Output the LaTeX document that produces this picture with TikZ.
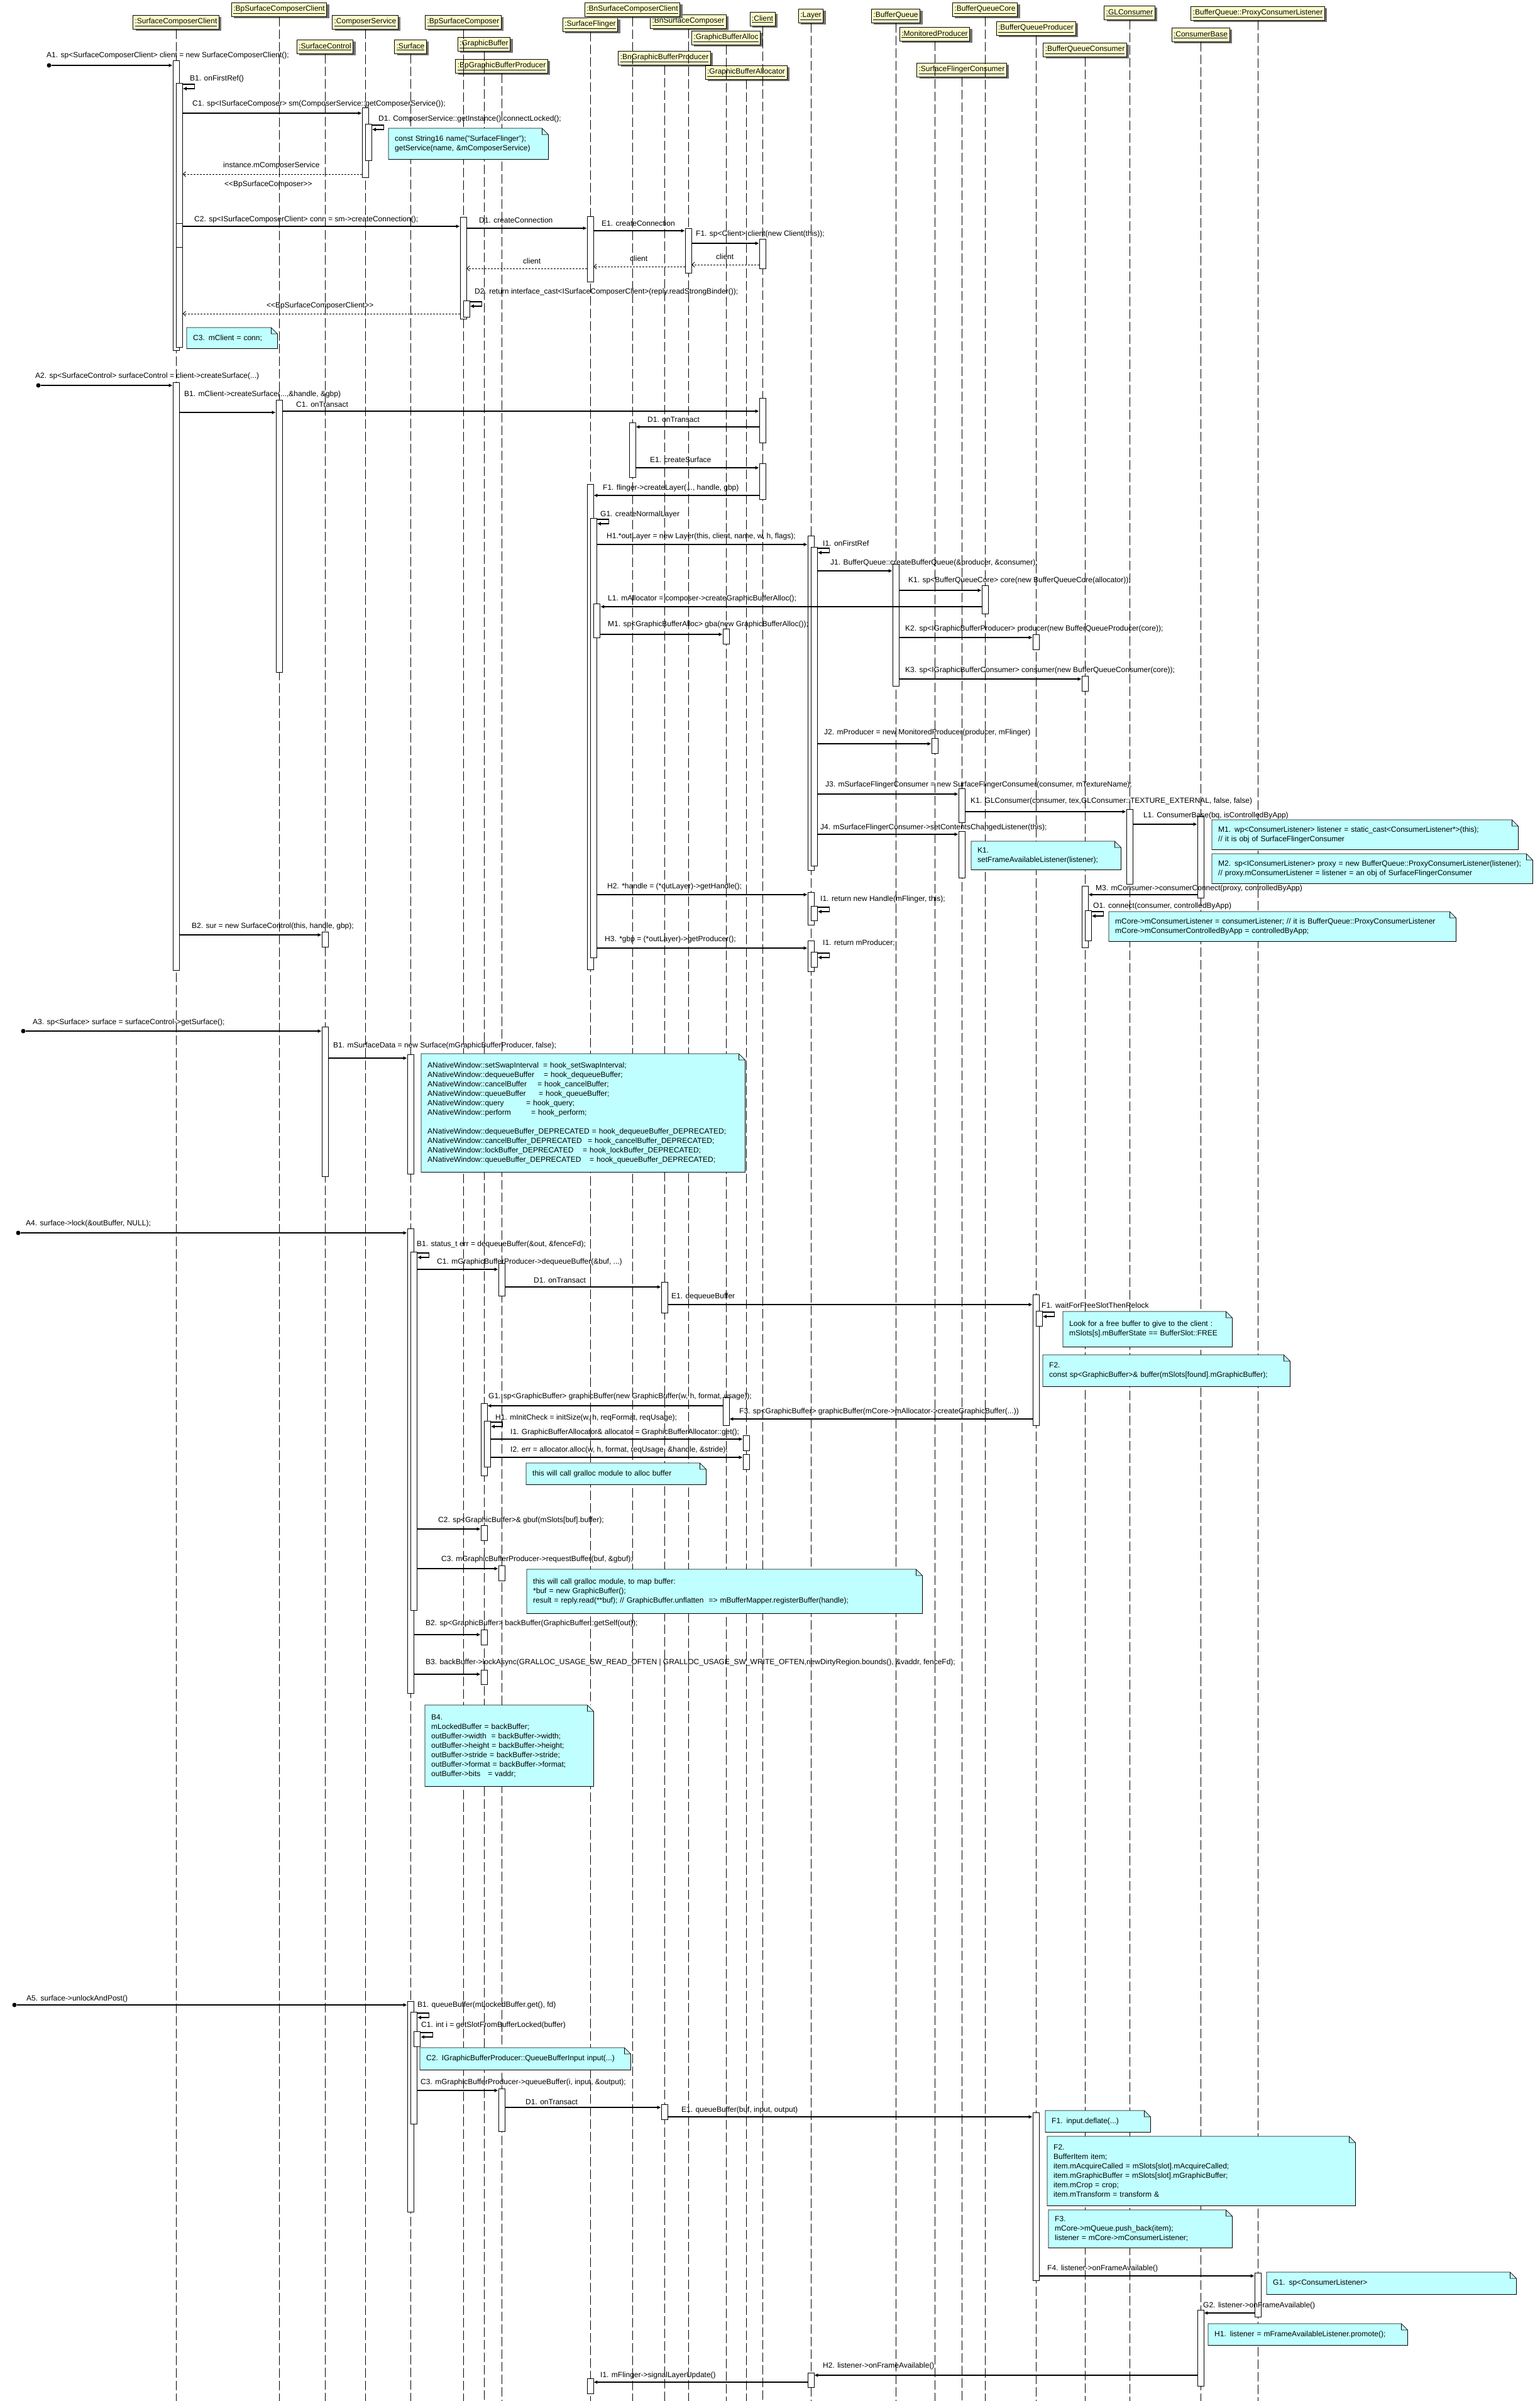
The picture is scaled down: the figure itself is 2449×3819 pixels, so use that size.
\documentclass[tikz,border=0pt]{standalone}
\usepackage{fontspec}
\setmainfont{Liberation Sans}
\usetikzlibrary{arrows.meta,shadows}
\definecolor{objyellow}{RGB}{255,255,204}
\definecolor{notecyan}{RGB}{192,255,255}
\newcommand{\dfont}{\fontsize{12}{15}\selectfont}
\tikzset{
  objbox/.style   = {draw, line width=0.8pt, fill=objyellow, anchor=north,
                     minimum height=22pt, inner xsep=3pt, inner ysep=0pt, font=\dfont,
                     drop shadow={shadow xshift=4pt, shadow yshift=-3pt, fill=black!55, opacity=1}},
  lifeline/.style = {line width=1pt, dash pattern=on 15pt off 5pt},
  actbar/.style   = {draw, fill=white, line width=0.8pt, anchor=north,
                     minimum width=10pt, inner sep=0pt},
  msg/.style      = {line width=1.1pt, -{Latex[length=6pt,width=6pt]}},
  ret/.style      = {line width=0.9pt, dash pattern=on 3pt off 2pt,
                     -{Straight Barb[length=4pt,width=8pt]}},
  msglabel/.style = {anchor=west, inner sep=0pt, font=\dfont},
  note/.style     = {fill=notecyan, anchor=north west, inner xsep=10pt, inner ysep=0pt,
                     align=left, font=\dfont},
  noteline/.style = {line width=0.8pt},
  startdot/.style = {circle, fill=black, inner sep=0pt, minimum size=7pt},
}
% folded corner and outline of a note node
\newcommand{\notefold}[1]{%
  \fill[white] ([xshift=-10pt]#1.north east) -- (#1.north east) -- ([yshift=-10pt]#1.north east) -- cycle;
  \draw[noteline] (#1.north west) -- ([xshift=-10pt]#1.north east) -- ([yshift=-10pt]#1.north east)
     -- (#1.south east) -- (#1.south west) -- cycle
     ([xshift=-10pt]#1.north east) |- ([yshift=-10pt]#1.north east);}

\begin{document}
\begin{tikzpicture}[x=1pt,y=-1pt]
  \path[use as bounding box, fill=white] (0,0) rectangle (2449,3819);

  % ---- objects -----------------------------------------------------------
  \foreach \nm/\txt/\x/\y in {
      scc/SurfaceComposerClient/280/24, bpscc/BpSurfaceComposerClient/444/4,
      sctl/SurfaceControl/517/63, csvc/ComposerService/581/24, surf/Surface/653/63,
      bpsc/BpSurfaceComposer/737/24, gbuf/GraphicBuffer/770/59,
      bpgbp/BpGraphicBufferProducer/798/94, sf/SurfaceFlinger/939/28,
      bnsc/BnSurfaceComposer/1095/23, bnscc/BnSurfaceComposerClient/1006/4,
      bngbp/BnGraphicBufferProducer/1057/81, gba/GraphicBufferAlloc/1155/49,
      gbator/GraphicBufferAllocator/1187/104, client/Client/1213/19,
      layer/Layer/1290/14, bq/BufferQueue/1425/14, mprod/MonitoredProducer/1487/43,
      sfc/SurfaceFlingerConsumer/1530/100, bqcore/BufferQueueCore/1567/4,
      bqp/BufferQueueProducer/1648/34, bqc/BufferQueueConsumer/1726/68,
      glc/GLConsumer/1797/9, cbase/ConsumerBase/1910/44,
      pcl/BufferQueue::ProxyConsumerListener/2001/10}
    \node[objbox] (h\nm) at (\x,\y) {\underline{:\txt}};

  % ---- lifelines ---------------------------------------------------------
  \foreach \nm in {scc,bpscc,sctl,csvc,surf,bpsc,gbuf,bpgbp,sf,bnsc,bnscc,bngbp,gba,
                   gbator,client,layer,bq,mprod,sfc,bqcore,bqp,bqc,glc,cbase,pcl}
    \draw[lifeline] (h\nm.south) -- (h\nm.south |- 0,3819);

  % ---- A1: create the composer client --------------------------------------
  \node[startdot] (s1) at (78,104) {};
  \node[actbar, minimum height=461pt] (a1scc) at (hscc.south |- 0,96) {};
  \node[actbar, minimum height=223pt] (a1sccB) at (a1scc.north east |- 0,132) {};
  \node[actbar, minimum height=38pt]  (a1sccC) at (a1scc.north east |- 0,355) {};
  \node[actbar, minimum height=159pt] (a1sccD) at (a1scc.north east |- 0,393) {};
  \node[actbar, minimum height=111pt] (a1csv) at (hcsvc.south |- 0,171) {};
  \node[actbar, minimum height=58pt]  (a1csvD) at (a1csv.north east |- 0,197) {};
  \node[actbar, minimum height=162pt] (a1bpsc) at (hbpsc.south |- 0,345) {};
  \node[actbar, minimum height=26pt]  (a1bpscD) at (a1bpsc.north east |- 0,478) {};
  \node[actbar, minimum height=104pt] (a1sf) at (hsf.south |- 0,344) {};
  \node[actbar, minimum height=71pt]  (a1bnsc) at (hbnsc.south |- 0,363) {};
  \node[actbar, minimum height=47pt]  (a1cli) at (hclient.south |- 0,380) {};

  \draw[msg] (s1) -- (a1scc.west |- s1);
  \node[msglabel] (l1A1) at (74,88) {A1. sp<SurfaceComposerClient> client = new SurfaceComposerClient();};
  \draw[msg] ([yshift=-2pt]a1sccB.north east) -- ++(19,0) -- ++(0,7) -- ++(-19,0);
  \node[msglabel] (l1B1) at (302,125) {B1. onFirstRef()};
  \draw[msg] (a1sccB.east |- 0,180) -- (a1csv.west |- 0,180);
  \node[msglabel] (l1C1) at (306,165) {C1. sp<ISurfaceComposer> sm(ComposerService::getComposerService());};
  \draw[msg] ([yshift=-2pt]a1csvD.north east) -- ++(19,0) -- ++(0,7) -- ++(-19,0);
  \node[msglabel] (l1D1) at (602,189) {D1. ComposerService::getInstance().connectLocked();};
  \draw[ret] (a1csv.west |- 0,277) -- (a1sccB.east |- 0,277);
  \node[msglabel] (l1r1) at (355,263) {instance.mComposerService};
  \node[msglabel] (l1r1b) at (357,293) {<{}<BpSurfaceComposer>{}>};
  \draw[msg] (a1sccC.east |- 0,360) -- (a1bpsc.west |- 0,360);
  \node[msglabel] (l1C2) at (309,349) {C2. sp<ISurfaceComposerClient> conn = sm->createConnection();};
  \draw[msg] (a1bpsc.east |- 0,363) -- (a1sf.west |- 0,363);
  \node[msglabel] (l1D1b) at (762,350) {D1. createConnection};
  \draw[msg] (a1sf.east |- 0,367) -- (a1bnsc.west |- 0,367);
  \node[msglabel] (l1E1) at (957,355) {E1. createConnection};
  \draw[msg] (a1bnsc.east |- 0,387) -- (a1cli.west |- 0,387);
  \node[msglabel] (l1F1) at (1107,372) {F1. sp<Client> client(new Client(this));};
  \draw[ret] (a1cli.west |- 0,421) -- (a1bnsc.east |- 0,421);
  \node[msglabel] (l1r2) at (1139,408) {client};
  \draw[ret] (a1bnsc.west |- 0,424) -- (a1sf.east |- 0,424);
  \node[msglabel] (l1r3) at (1002,411) {client};
  \draw[ret] (a1sf.west |- 0,427) -- (a1bpsc.east |- 0,427);
  \node[msglabel] (l1r4) at (832,415) {client};
  \draw[msg] ([yshift=-2pt]a1bpscD.north east) -- ++(19,0) -- ++(0,7) -- ++(-19,0);
  \node[msglabel] (l1D2) at (755,464) {D2. return interface\_cast<ISurfaceComposerClient>(reply.readStrongBinder());};
  \draw[ret] (a1bpsc.west |- 0,499) -- (a1sccD.east |- 0,499);
  \node[msglabel] (l1r5) at (424,486) {<{}<BpSurfaceComposerClient>{}>};

  \node[note, text width=234pt, minimum height=49pt] (n1D1) at (618,204)
    {const String16 name("SurfaceFlinger");\\getService(name, \&mComposerService)};
  \notefold{n1D1}
  \node[note, text width=124pt, minimum height=33pt] (n1C3) at (297,521) {C3. mClient = conn;};
  \notefold{n1C3}

  % ---- A2: create the surface ----------------------------------------------
  \node[startdot] (s2) at (61,613) {};
  \node[actbar, minimum height=935pt] (a2scc) at (hscc.south |- 0,608) {};
  \node[actbar, minimum height=433pt] (a2bpscc) at (hbpscc.south |- 0,636) {};
  \node[actbar, minimum height=71pt]  (a2cli1) at (hclient.south |- 0,633) {};
  \node[actbar, minimum height=87pt]  (a2bnscc) at (hbnscc.south |- 0,672) {};
  \node[actbar, minimum height=57pt]  (a2cli2) at (hclient.south |- 0,737) {};
  \node[actbar, minimum height=772pt] (a2sf) at (hsf.south |- 0,770) {};
  \node[actbar, minimum height=699pt] (a2sfG) at (a2sf.north east |- 0,824) {};
  \node[actbar, minimum height=54pt]  (a2sfL) at (a2sfG.north east |- 0,960) {};
  \node[actbar, minimum height=532pt] (a2layer) at (hlayer.south |- 0,852) {};
  \node[actbar, minimum height=507pt] (a2layerI) at (a2layer.north east |- 0,870) {};
  \node[actbar, minimum height=194pt] (a2bq) at (hbq.south |- 0,897) {};
  \node[actbar, minimum height=45pt]  (a2core) at (hbqcore.south |- 0,931) {};
  \node[actbar, minimum height=24pt]  (a2gba) at (hgba.south |- 0,1000) {};
  \node[actbar, minimum height=24pt]  (a2bqp) at (hbqp.south |- 0,1009) {};
  \node[actbar, minimum height=24pt]  (a2bqc) at (hbqc.south |- 0,1075) {};
  \node[actbar, minimum height=24pt]  (a2mprod) at (hmprod.south |- 0,1174) {};
  \node[actbar, minimum height=54pt]  (a2sfc1) at (hsfc.south |- 0,1254) {};
  \node[actbar, minimum height=119pt] (a2glc) at (hglc.south |- 0,1287) {};
  \node[actbar, minimum height=130pt] (a2cbase) at (hcbase.south |- 0,1298) {};
  \node[actbar, minimum height=74pt]  (a2sfc2) at (hsfc.south |- 0,1322) {};
  \node[actbar, minimum height=98pt]  (a2bqc2) at (hbqc.south |- 0,1409) {};
  \node[actbar, minimum height=48pt]  (a2bqcO) at (a2bqc2.north east |- 0,1448) {};
  \node[actbar, minimum height=52pt]  (a2layer2) at (hlayer.south |- 0,1419) {};
  \node[actbar, minimum height=23pt]  (a2layer2I) at (a2layer2.north east |- 0,1441) {};
  \node[actbar, minimum height=49pt]  (a2layer3) at (hlayer.south |- 0,1496) {};
  \node[actbar, minimum height=24pt]  (a2layer3I) at (a2layer3.north east |- 0,1514) {};
  \node[actbar, minimum height=24pt]  (a2sctl) at (hsctl.south |- 0,1482) {};

  \draw[msg] (s2) -- (a2scc.west |- s2);
  \node[msglabel] (l2A2) at (56,598) {A2. sp<SurfaceControl> surfaceControl = client->createSurface(...)};
  \draw[msg] (a2scc.east |- 0,656) -- (a2bpscc.west |- 0,656);
  \node[msglabel] (l2B1) at (293,627) {B1. mClient->createSurface(...,\&handle, \&gbp)};
  \draw[msg] (a2bpscc.east |- 0,654) -- (a2cli1.west |- 0,654);
  \node[msglabel] (l2C1) at (471,643) {C1. onTransact};
  \draw[msg] (a2cli1.west |- 0,679) -- (a2bnscc.east |- 0,679);
  \node[msglabel] (l2D1) at (1030,667) {D1. onTransact};
  \draw[msg] (a2bnscc.east |- 0,744) -- (a2cli2.west |- 0,744);
  \node[msglabel] (l2E1) at (1034,731) {E1. createSurface};
  \draw[msg] (a2cli2.west |- 0,788) -- (a2sf.east |- 0,788);
  \node[msglabel] (l2F1) at (959,776) {F1. flinger->createLayer(..., handle, gbp)};
  \draw[msg] ([yshift=-2pt]a2sfG.north east) -- ++(19,0) -- ++(0,7) -- ++(-19,0);
  \node[msglabel] (l2G1) at (955,818) {G1. createNormalLayer};
  \draw[msg] (a2sfG.east |- 0,866) -- (a2layer.west |- 0,866);
  \node[msglabel] (l2H1) at (965,853) {H1.*outLayer = new Layer(this, client, name, w, h, flags);};
  \draw[msg] ([yshift=-2pt]a2layerI.north east) -- ++(19,0) -- ++(0,7) -- ++(-19,0);
  \node[msglabel] (l2I1) at (1309,864) {I1. onFirstRef};
  \draw[msg] (a2layerI.east |- 0,908) -- (a2bq.west |- 0,908);
  \node[msglabel] (l2J1) at (1321,895) {J1. BufferQueue::createBufferQueue(\&producer, \&consumer);};
  \draw[msg] (a2bq.east |- 0,939) -- (a2core.west |- 0,939);
  \node[msglabel] (l2K1) at (1445,923) {K1. sp<BufferQueueCore> core(new BufferQueueCore(allocator));};
  \draw[msg] (a2core.west |- 0,965) -- (a2sfL.east |- 0,965);
  \node[msglabel] (l2L1) at (967,952) {L1. mAllocator = composer->createGraphicBufferAlloc();};
  \draw[msg] (a2sfL.east |- 0,1009) -- (a2gba.west |- 0,1009);
  \node[msglabel] (l2M1) at (967,993) {M1. sp<GraphicBufferAlloc> gba(new GraphicBufferAlloc());};
  \draw[msg] (a2bq.east |- 0,1014) -- (a2bqp.west |- 0,1014);
  \node[msglabel] (l2K2) at (1440,1000) {K2. sp<IGraphicBufferProducer> producer(new BufferQueueProducer(core));};
  \draw[msg] (a2bq.east |- 0,1080) -- (a2bqc.west |- 0,1080);
  \node[msglabel] (l2K3) at (1440,1066) {K3. sp<IGraphicBufferConsumer> consumer(new BufferQueueConsumer(core));};
  \draw[msg] (a2layerI.east |- 0,1183) -- (a2mprod.west |- 0,1183);
  \node[msglabel] (l2J2) at (1311,1165) {J2. mProducer = new MonitoredProducer(producer, mFlinger)};
  \draw[msg] (a2layerI.east |- 0,1263) -- (a2sfc1.west |- 0,1263);
  \node[msglabel] (l2J3) at (1313,1248) {J3. mSurfaceFlingerConsumer = new SurfaceFlingerConsumer(consumer, mTextureName);};
  \draw[msg] (a2sfc1.east |- 0,1291) -- (a2glc.west |- 0,1291);
  \node[msglabel] (l2K1b) at (1544,1274) {K1. GLConsumer(consumer, tex,GLConsumer::TEXTURE\_EXTERNAL, false, false)};
  \draw[msg] (a2glc.east |- 0,1311) -- (a2cbase.west |- 0,1311);
  \node[msglabel] (l2L1b) at (1819,1297) {L1. ConsumerBase(bq, isControlledByApp)};
  \draw[msg] (a2layerI.east |- 0,1327) -- (a2sfc2.west |- 0,1327);
  \node[msglabel] (l2J4) at (1305,1316) {J4. mSurfaceFlingerConsumer->setContentsChangedListener(this);};
  \draw[msg] (a2cbase.west |- 0,1423) -- (a2bqc2.east |- 0,1423);
  \node[msglabel] (l2M3) at (1743,1413) {M3. mConsumer->consumerConnect(proxy, controlledByApp)};
  \draw[msg] ([yshift=-2pt]a2bqcO.north east) -- ++(19,0) -- ++(0,7) -- ++(-19,0);
  \node[msglabel] (l2O1) at (1739,1441) {O1. connect(consumer, controlledByApp)};
  \draw[msg] (a2sfG.east |- 0,1423) -- (a2layer2.west |- 0,1423);
  \node[msglabel] (l2H2) at (966,1410) {H2. *handle = (*outLayer)->getHandle();};
  \draw[msg] ([yshift=-2pt]a2layer2I.north east) -- ++(19,0) -- ++(0,7) -- ++(-19,0);
  \node[msglabel] (l2I1b) at (1305,1430) {I1. return new Handle(mFlinger, this);};
  \draw[msg] (a2sfG.east |- 0,1508) -- (a2layer3.west |- 0,1508);
  \node[msglabel] (l2H3) at (962,1494) {H3. *gbp = (*outLayer)->getProducer();};
  \draw[msg] ([yshift=-2pt]a2layer3I.north east) -- ++(19,0) -- ++(0,7) -- ++(-19,0);
  \node[msglabel] (l2I1c) at (1309,1500) {I1. return mProducer;};
  \draw[msg] (a2scc.east |- 0,1487) -- (a2sctl.west |- 0,1487);
  \node[msglabel] (l2B2) at (305,1473) {B2. sur = new SurfaceControl(this, handle, gbp);};

  \node[note, text width=218pt, minimum height=45pt] (n2K1) at (1545,1338)
    {K1.\\setFrameAvailableListener(listener);};
  \notefold{n2K1}
  \node[note, text width=467pt, minimum height=47pt] (n2M1) at (1928,1304)
    {M1. wp<ConsumerListener> listener = static\_cast<ConsumerListener*>(this);\\// it is obj of SurfaceFlingerConsumer};
  \notefold{n2M1}
  \node[note, text width=490pt, minimum height=47pt] (n2M2) at (1928,1358)
    {M2. sp<IConsumerListener> proxy = new BufferQueue::ProxyConsumerListener(listener);\\// proxy.mConsumerListener = listener = an obj of SurfaceFlingerConsumer};
  \notefold{n2M2}
  \node[note, text width=532pt, minimum height=47pt] (n2O1) at (1764,1450)
    {mCore->mConsumerListener = consumerListener; // it is BufferQueue::ProxyConsumerListener\\mCore->mConsumerControlledByApp = controlledByApp;};
  \notefold{n2O1}

  % ---- A3: get the surface -------------------------------------------------
  \node[startdot] (s3) at (37,1640) {};
  \node[actbar, minimum height=238pt] (a3sctl) at (hsctl.south |- 0,1633) {};
  \node[actbar, minimum height=190pt] (a3surf) at (hsurf.south |- 0,1677) {};
  \draw[msg] (s3) -- (a3sctl.west |- s3);
  \node[msglabel] (l3A3) at (52,1626) {A3. sp<Surface> surface = surfaceControl->getSurface();};
  \draw[msg] (a3sctl.east |- 0,1683) -- (a3surf.west |- 0,1683);
  \node[msglabel] (l3B1) at (530,1663) {B1. mSurfaceData = new Surface(mGraphicBufferProducer, false);};
  \node[note, text width=495pt, minimum height=188pt] (n3B1) at (670,1676)
    {\makebox[184pt][l]{ANativeWindow::setSwapInterval}= hook\_setSwapInterval;\\
     \makebox[185pt][l]{ANativeWindow::dequeueBuffer}= hook\_dequeueBuffer;\\
     \makebox[175pt][l]{ANativeWindow::cancelBuffer}= hook\_cancelBuffer;\\
     \makebox[177pt][l]{ANativeWindow::queueBuffer}= hook\_queueBuffer;\\
     \makebox[157pt][l]{ANativeWindow::query}= hook\_query;\\
     \makebox[165pt][l]{ANativeWindow::perform}= hook\_perform;\\[15pt]
     ANativeWindow::dequeueBuffer\_DEPRECATED = hook\_dequeueBuffer\_DEPRECATED;\\
     \makebox[255pt][l]{ANativeWindow::cancelBuffer\_DEPRECATED}= hook\_cancelBuffer\_DEPRECATED;\\
     \makebox[247pt][l]{ANativeWindow::lockBuffer\_DEPRECATED}= hook\_lockBuffer\_DEPRECATED;\\
     \makebox[258pt][l]{ANativeWindow::queueBuffer\_DEPRECATED}= hook\_queueBuffer\_DEPRECATED;};
  \notefold{n3B1}

  % ---- A4: lock ------------------------------------------------------------
  \node[startdot] (s4) at (29,1961) {};
  \node[actbar, minimum height=739pt] (a4surf) at (hsurf.south |- 0,1954) {};
  \node[actbar, minimum height=570pt] (a4surfB) at (a4surf.north east |- 0,1991) {};
  \node[actbar, minimum height=52pt]  (a4bpgbp) at (hbpgbp.south |- 0,2009) {};
  \node[actbar, minimum height=49pt]  (a4bngbp) at (hbngbp.south |- 0,2039) {};
  \node[actbar, minimum height=208pt] (a4bqp) at (hbqp.south |- 0,2059) {};
  \node[actbar, minimum height=24pt]  (a4bqpF) at (a4bqp.north east |- 0,2085) {};
  \node[actbar, minimum height=45pt]  (a4gba) at (hgba.south |- 0,2222) {};
  \node[actbar, minimum height=115pt] (a4gbuf) at (hgbuf.south |- 0,2232) {};
  \node[actbar, minimum height=73pt]  (a4gbufH) at (a4gbuf.north east |- 0,2260) {};
  \node[actbar, minimum height=24pt]  (a4gbator) at (hgbator.south |- 0,2283) {};
  \node[actbar, minimum height=24pt]  (a4gbator2) at (hgbator.south |- 0,2313) {};
  \node[actbar, minimum height=24pt]  (a4gbuf2) at (hgbuf.south |- 0,2426) {};
  \node[actbar, minimum height=24pt]  (a4bpgbp2) at (hbpgbp.south |- 0,2490) {};
  \node[actbar, minimum height=24pt]  (a4gbuf3) at (hgbuf.south |- 0,2592) {};
  \node[actbar, minimum height=23pt]  (a4gbuf4) at (hgbuf.south |- 0,2656) {};

  \draw[msg] (s4) -- (a4surf.west |- s4);
  \node[msglabel] (l4A4) at (41,1946) {A4. surface->lock(\&outBuffer, NULL);};
  \draw[msg] ([yshift=-2pt]a4surfB.north east) -- ++(19,0) -- ++(0,7) -- ++(-19,0);
  \node[msglabel] (l4B1) at (663,1979) {B1. status\_t err = dequeueBuffer(\&out, \&fenceFd);};
  \draw[msg] (a4surfB.east |- 0,2019) -- (a4bpgbp.west |- 0,2019);
  \node[msglabel] (l4C1) at (695,2007) {C1. mGraphicBufferProducer->dequeueBuffer(\&buf, ...)};
  \draw[msg] (a4bpgbp.east |- 0,2047) -- (a4bngbp.west |- 0,2047);
  \node[msglabel] (l4D1) at (849,2036) {D1. onTransact};
  \draw[msg] (a4bngbp.east |- 0,2075) -- (a4bqp.west |- 0,2075);
  \node[msglabel] (l4E1) at (1068,2062) {E1. dequeueBuffer};
  \draw[msg] ([yshift=-2pt]a4bqpF.north east) -- ++(19,0) -- ++(0,7) -- ++(-19,0);
  \node[msglabel] (l4F1) at (1657,2076) {F1. waitForFreeSlotThenRelock};
  \draw[msg] (a4bqp.west |- 0,2257) -- (a4gba.east |- 0,2257);
  \node[msglabel] (l4F3) at (1176,2245) {F3. sp<GraphicBuffer> graphicBuffer(mCore->mAllocator->createGraphicBuffer(...))};
  \draw[msg] (a4gba.west |- 0,2236) -- (a4gbuf.east |- 0,2236);
  \node[msglabel] (l4G1) at (777,2221) {G1. sp<GraphicBuffer> graphicBuffer(new GraphicBuffer(w, h, format, usage));};
  \draw[msg] ([yshift=-2pt]a4gbufH.north east) -- ++(19,0) -- ++(0,7) -- ++(-19,0);
  \node[msglabel] (l4H1) at (788,2255) {H1. mInitCheck = initSize(w, h, reqFormat, reqUsage);};
  \draw[msg] (a4gbufH.east |- 0,2289) -- (a4gbator.west |- 0,2289);
  \node[msglabel] (l4I1) at (812,2278) {I1. GraphicBufferAllocator\& allocator = GraphicBufferAllocator::get();};
  \draw[msg] (a4gbufH.east |- 0,2318) -- (a4gbator2.west |- 0,2318);
  \node[msglabel] (l4I2) at (812,2306) {I2. err = allocator.alloc(w, h, format, reqUsage, \&handle, \&stride);};
  \draw[msg] (a4surfB.east |- 0,2432) -- (a4gbuf2.west |- 0,2432);
  \node[msglabel] (l4C2) at (697,2418) {C2. sp<GraphicBuffer>\& gbuf(mSlots[buf].buffer);};
  \draw[msg] (a4surfB.east |- 0,2495) -- (a4bpgbp2.west |- 0,2495);
  \node[msglabel] (l4C3) at (702,2480) {C3. mGraphicBufferProducer->requestBuffer(buf, \&gbuf);};
  \draw[msg] (a4surf.east |- 0,2600) -- (a4gbuf3.west |- 0,2600);
  \node[msglabel] (l4B2) at (677,2582) {B2. sp<GraphicBuffer> backBuffer(GraphicBuffer::getSelf(out));};
  \draw[msg] (a4surf.east |- 0,2663) -- (a4gbuf4.west |- 0,2663);
  \node[msglabel] (l4B3) at (677,2644) {B3. backBuffer->lockAsync(GRALLOC\_USAGE\_SW\_READ\_OFTEN | GRALLOC\_USAGE\_SW\_WRITE\_OFTEN,newDirtyRegion.bounds(), \&vaddr, fenceFd);};

  \node[note, text width=249pt, minimum height=56pt] (n4F1) at (1691,2086)
    {Look for a free buffer to give to the client :\\mSlots[s].mBufferState == BufferSlot::FREE};
  \notefold{n4F1}
  \node[note, text width=373pt, minimum height=50pt] (n4F2) at (1659,2155)
    {F2.\\const sp<GraphicBuffer>\& buffer(mSlots[found].mGraphicBuffer);};
  \notefold{n4F2}
  \node[note, text width=266pt, minimum height=34pt] (n4I2) at (837,2327)
    {this will call gralloc module to alloc buffer};
  \notefold{n4I2}
  \node[note, text width=609pt, minimum height=70pt] (n4C3) at (838,2496)
    {this will call gralloc module, to map buffer:\\{*}buf = new GraphicBuffer();\\result = reply.read(**buf); // GraphicBuffer.unflatten\ \ => mBufferMapper.registerBuffer(handle);};
  \notefold{n4C3}
  \node[note, text width=248pt, minimum height=129pt] (n4B4) at (676,2712)
    {B4.\\mLockedBuffer = backBuffer;\\outBuffer->width\ \ = backBuffer->width;\\outBuffer->height = backBuffer->height;\\outBuffer->stride = backBuffer->stride;\\outBuffer->format = backBuffer->format;\\outBuffer->bits\ \ \ = vaddr;};
  \notefold{n4B4}

  % ---- A5: unlock and post -------------------------------------------------
  \node[startdot] (s5) at (23,3189) {};
  \node[actbar, minimum height=335pt] (a5surf) at (hsurf.south |- 0,3183) {};
  \node[actbar, minimum height=178pt] (a5surfB) at (a5surf.north east |- 0,3200) {};
  \node[actbar, minimum height=24pt]  (a5surfC) at (a5surfB.north east |- 0,3231) {};
  \node[actbar, minimum height=68pt]  (a5bpgbp) at (hbpgbp.south |- 0,3322) {};
  \node[actbar, minimum height=24pt]  (a5bngbp) at (hbngbp.south |- 0,3347) {};
  \node[actbar, minimum height=267pt] (a5bqp) at (hbqp.south |- 0,3360) {};
  \node[actbar, minimum height=70pt]  (a5pcl) at (hpcl.south |- 0,3615) {};
  \node[actbar, minimum height=121pt] (a5cbase) at (hcbase.south |- 0,3674) {};
  \node[actbar, minimum height=23pt]  (a5layer) at (hlayer.south |- 0,3774) {};
  \node[actbar, minimum height=24pt]  (a5sf) at (hsf.south |- 0,3783) {};

  \draw[msg] (s5) -- (a5surf.west |- s5);
  \node[msglabel] (l5A5) at (42,3179) {A5. surface->unlockAndPost()};
  \draw[msg] ([yshift=-2pt]a5surfB.north east) -- ++(19,0) -- ++(0,7) -- ++(-19,0);
  \node[msglabel] (l5B1) at (664,3189) {B1. queueBuffer(mLockedBuffer.get(), fd)};
  \draw[msg] ([yshift=-2pt]a5surfC.north east) -- ++(19,0) -- ++(0,7) -- ++(-19,0);
  \node[msglabel] (l5C1) at (670,3221) {C1. int i = getSlotFromBufferLocked(buffer)};
  \draw[msg] (a5surfB.east |- 0,3325) -- (a5bpgbp.west |- 0,3325);
  \node[msglabel] (l5C3) at (669,3312) {C3. mGraphicBufferProducer->queueBuffer(i, input, \&output);};
  \draw[msg] (a5bpgbp.east |- 0,3352) -- (a5bngbp.west |- 0,3352);
  \node[msglabel] (l5D1) at (836,3343) {D1. onTransact};
  \draw[msg] (a5bngbp.east |- 0,3367) -- (a5bqp.west |- 0,3367);
  \node[msglabel] (l5E1) at (1084,3356) {E1. queueBuffer(buf, input, output)};
  \draw[msg] (a5bqp.east |- 0,3620) -- (a5pcl.west |- 0,3620);
  \node[msglabel] (l5F4) at (1666,3608) {F4. listener->onFrameAvailable()};
  \draw[msg] (a5pcl.west |- 0,3679) -- (a5cbase.east |- 0,3679);
  \node[msglabel] (l5G2) at (1914,3667) {G2. listener->onFrameAvailable()};
  \draw[msg] (a5cbase.west |- 0,3778) -- (a5layer.east |- 0,3778);
  \node[msglabel] (l5H2) at (1309,3763) {H2. listener->onFrameAvailable()};
  \draw[msg] (a5layer.west |- 0,3789) -- (a5sf.east |- 0,3789);
  \node[msglabel] (l5I1) at (955,3778) {I1. mFlinger->signalLayerUpdate()};

  \node[note, text width=315pt, minimum height=35pt] (n5C2) at (668,3257)
    {C2. IGraphicBufferProducer::QueueBufferInput input(...)};
  \notefold{n5C2}
  \node[note, text width=147pt, minimum height=34pt] (n5F1) at (1663,3357) {F1. input.deflate(...)};
  \notefold{n5F1}
  \node[note, text width=470pt, minimum height=110pt] (n5F2) at (1666,3398)
    {F2.\\BufferItem item;\\item.mAcquireCalled = mSlots[slot].mAcquireCalled;\\item.mGraphicBuffer = mSlots[slot].mGraphicBuffer;\\item.mCrop = crop;\\item.mTransform = transform \&};
  \notefold{n5F2}
  \node[note, text width=272pt, minimum height=60pt] (n5F3) at (1668,3515)
    {F3.\\mCore->mQueue.push\_back(item);\\listener = mCore->mConsumerListener;};
  \notefold{n5F3}
  \node[note, text width=377pt, minimum height=35pt] (n5G1) at (2015,3614) {G1. sp<ConsumerListener>};
  \notefold{n5G1}
  \node[note, text width=297pt, minimum height=34pt] (n5H1) at (1922,3696)
    {H1. listener = mFrameAvailableListener.promote();};
  \notefold{n5H1}
\end{tikzpicture}
\end{document}
